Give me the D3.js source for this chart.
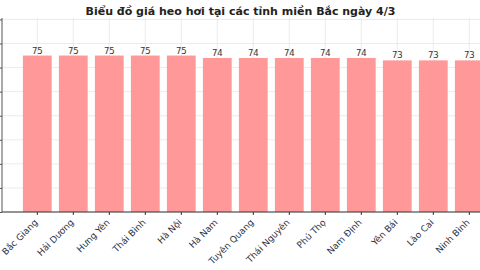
<!DOCTYPE html>
<html>
<head>
<meta charset="utf-8">
<script src="https://cdn.jsdelivr.net/npm/d3@7"></script>
<style>
  body { margin: 0; background: #fff; }
  svg { display: block; font-family: "DejaVu Sans", sans-serif; }
</style>
</head>
<body>
<div id="chart"></div>
<script>
// data
const provinces = ["Bắc Giang", "Hải Dương", "Hưng Yên", "Thái Bình", "Hà Nội", "Hà Nam",
  "Tuyên Quang", "Thái Nguyên", "Phú Thọ", "Nam Định", "Yên Bái", "Lào Cai", "Ninh Bình"];
const prices = [75, 75, 75, 75, 75, 74, 74, 74, 74, 74, 73, 73, 73];
const yTicks = [10, 20, 30, 40, 50, 60, 70, 80, 90];

const width = 480;
const height = 270;
const plotLeft = 2, plotBottom = 212, plotTop = 18;

const svg = d3.select("#chart")
  .append("svg")
  .attr("width", width)
  .attr("height", height);

const x = d3.scaleBand()
  .domain(provinces)
  .range([19.3, 19.3 + 36 * provinces.length])
  .paddingInner(0.2)
  .paddingOuter(0.1);

const y = d3.scaleLinear()
  .domain([10, 90.6])
  .range([plotBottom, plotTop]);

// grid
svg.append("g")
  .selectAll("line")
  .data(yTicks)
  .join("line")
  .attr("x1", plotLeft).attr("x2", width)
  .attr("y1", d => y(d)).attr("y2", d => y(d))
  .attr("stroke", "#e6e6e6").attr("stroke-width", 0.8);

svg.append("g")
  .selectAll("line")
  .data(provinces)
  .join("line")
  .attr("x1", d => x(d) + x.bandwidth() / 2).attr("x2", d => x(d) + x.bandwidth() / 2)
  .attr("y1", plotTop).attr("y2", plotBottom)
  .attr("stroke", "#e6e6e6").attr("stroke-width", 0.8);

// bars
svg.append("g")
  .selectAll("rect")
  .data(provinces)
  .join("rect")
  .attr("x", d => x(d))
  .attr("width", x.bandwidth())
  .attr("y", (d, i) => y(prices[i]))
  .attr("height", (d, i) => plotBottom - y(prices[i]))
  .attr("fill", "#ff9999");

// value labels
svg.append("g")
  .selectAll("text")
  .data(provinces)
  .join("text")
  .attr("x", d => x(d) + x.bandwidth() / 2)
  .attr("y", (d, i) => y(prices[i]) - 2)
  .attr("text-anchor", "middle")
  .style("font-size", "8.5px")
  .style("fill", "#333")
  .text((d, i) => prices[i]);

// axes (y tick labels fall outside the crop, so only ticks are drawn)
const yAxis = svg.append("g")
  .attr("transform", `translate(${plotLeft},0)`)
  .call(d3.axisLeft(y).tickValues(yTicks).tickSize(3).tickSizeOuter(0).tickFormat(""));
yAxis.select(".domain").attr("d", `M0,${plotTop}V${plotBottom}`).attr("stroke", "#555");
yAxis.selectAll(".tick line").attr("stroke", "#555");

const xAxis = svg.append("g")
  .attr("transform", `translate(0,${plotBottom})`)
  .call(d3.axisBottom(x).tickSize(3).tickSizeOuter(0));
xAxis.select(".domain").attr("d", `M${plotLeft},0H${width}`).attr("stroke", "#333");
xAxis.selectAll(".tick line").attr("stroke", "#333");
xAxis.selectAll(".tick text")
  .attr("x", 0)
  .attr("y", 0)
  .attr("dy", 0)
  .attr("text-anchor", "end")
  .attr("transform", "translate(1,11) rotate(-45)")
  .style("font-size", "9px")
  .style("font-family", "DejaVu Sans, sans-serif")
  .style("fill", "#333");

// title
svg.append("text")
  .attr("x", 240.5)
  .attr("y", 15)
  .attr("text-anchor", "middle")
  .style("font-size", "11px")
  .style("font-weight", "bold")
  .style("fill", "#222")
  .text("Biểu đồ giá heo hơi tại các tỉnh miền Bắc ngày 4/3");
</script>
</body>
</html>
